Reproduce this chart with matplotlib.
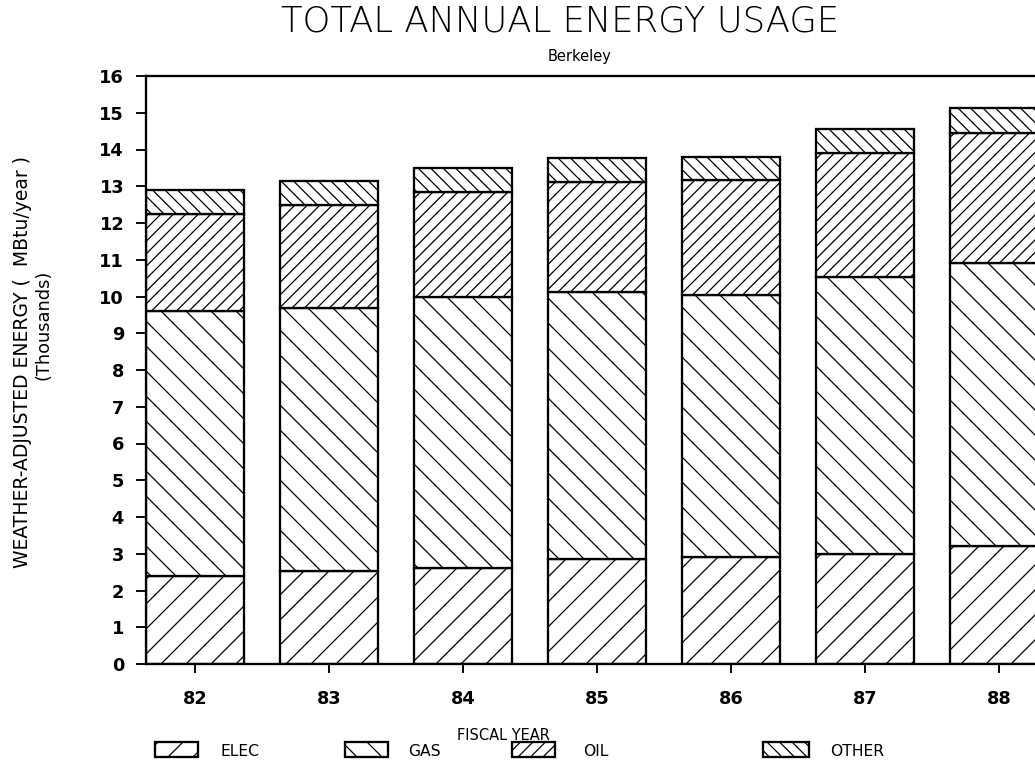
"""
Total annual energy usage, Berkeley - stacked hatched bars
"""

import numpy as np
import matplotlib
matplotlib.use("Agg")
import matplotlib.pyplot as plt
from matplotlib.patches import Rectangle

# data (thousands of MBtu/year)
years = [82, 83, 84, 85, 86, 87, 88]
elec = [2.40, 2.52, 2.60, 2.85, 2.90, 3.00, 3.20]
gas = [7.20, 7.18, 7.40, 7.27, 7.13, 7.52, 7.70]
oil = [2.65, 2.80, 2.85, 3.00, 3.15, 3.38, 3.56]
other = [0.65, 0.65, 0.65, 0.64, 0.62, 0.66, 0.66]

series_names = ['ELEC', 'GAS', 'OIL', 'OTHER']
hatches = ['//', '\\\\', '////', '\\\\\\\\']

plt.rcParams['hatch.linewidth'] = 0.6
plt.rcParams['font.family'] = 'DejaVu Sans'

DPI = 150
fig = plt.figure(figsize=(1035 / DPI, 769 / DPI), dpi=DPI)
ax = fig.add_axes([146 / 1035, 105 / 769, 902 / 1035, 588 / 769])

x = np.array(years, dtype=float)
width = 0.735
bottom = np.zeros(len(years))
for vals, h in zip([elec, gas, oil, other], hatches):
    ax.bar(x, vals, width, bottom=bottom, facecolor='white',
           edgecolor='black', linewidth=1.1, hatch=h)
    bottom += np.array(vals)

ax.set_xlim(years[0] - width / 2, years[-1] + width / 2)
ax.set_ylim(0, 16)
ax.set_yticks(range(0, 17))
ax.set_xticks(years)
ax.set_xticklabels([str(y) for y in years])

for side in ['left', 'top', 'bottom']:
    ax.spines[side].set_linewidth(1.1)
ax.spines['right'].set_visible(False)

ax.tick_params(axis='y', direction='out', length=5, width=0.9, pad=5.5,
               labelsize=8.5)
ax.tick_params(axis='x', direction='out', length=4.5, width=0.9, pad=8,
               labelsize=8.5)
for lbl in ax.get_xticklabels() + ax.get_yticklabels():
    lbl.set_fontweight('bold')

# titles
fig.text(560 / 1035, 1 - 22 / 769, 'TOTAL ANNUAL ENERGY USAGE',
         ha='center', va='center', fontsize=17, fontweight='light')
fig.text(580 / 1035, 1 - 57 / 769, 'Berkeley', ha='center', va='center',
         fontsize=7)

# y label (two lines)
fig.text(23 / 1035, 1 - 362 / 769, 'WEATHER-ADJUSTED ENERGY (  MBtu/year )',
         rotation=90, ha='center', va='center', fontsize=9)
fig.text(44 / 1035, 1 - 325 / 769, '(Thousands)',
         rotation=90, ha='center', va='center', fontsize=8.5)

# x label
fig.text(503 / 1035, 1 - 735 / 769, 'FISCAL YEAR', ha='center',
         va='center', fontsize=7)

# legend, drawn by hand
box_x = [155, 345, 512, 763]
box_w = [43, 43, 43, 46]
text_x = [220, 408, 583, 830]
for name, h, bx, bw, tx in zip(series_names, hatches, box_x, box_w, text_x):
    fig.add_artist(Rectangle((bx / 1035, 1 - 757 / 769), bw / 1035, 15 / 769,
                             transform=fig.transFigure, facecolor='white',
                             edgecolor='black', linewidth=1.1, hatch=h))
    fig.text(tx / 1035, 1 - 751 / 769, name, ha='left', va='center',
             fontsize=7.5)

fig.savefig('out.png', dpi=DPI)
